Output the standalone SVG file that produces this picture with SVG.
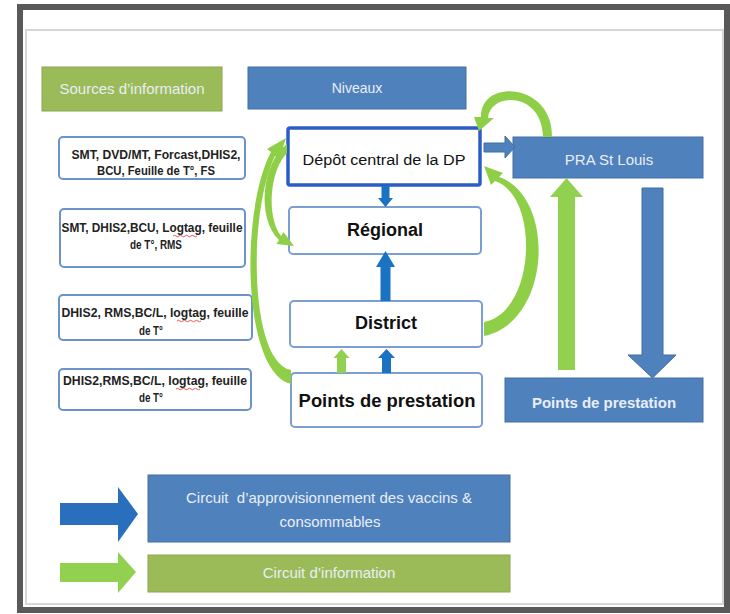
<svg xmlns="http://www.w3.org/2000/svg" width="730" height="614" viewBox="0 0 730 614">
<style>
.frame{fill:none;stroke:#595959;stroke-width:6}
.slide{fill:#fff;stroke:#d6d6d6;stroke-width:2}
.src{fill:#fff;stroke:#6b93c8;stroke-width:2}
.lvl{fill:#fff;stroke:#7a9fd0;stroke-width:2}
.dep{fill:#fff;stroke:#2c5cc5;stroke-width:3.5}
.brect{fill:#4f81bd;stroke:#44709f;stroke-width:1}
.grect{fill:#9bbb59;stroke:#8aa84f;stroke-width:1}
.st{font-family:"Liberation Sans",Arial,sans-serif;font-size:12.5px;font-weight:bold;fill:#222;text-anchor:middle}
.lt{font-family:"Liberation Sans",Arial,sans-serif;font-weight:bold;fill:#111;text-anchor:middle}
.dt{font-family:"Liberation Sans",Arial,sans-serif;font-weight:normal;font-size:15.5px;fill:#111;text-anchor:middle}
.wt{font-family:"Liberation Sans",Arial,sans-serif;fill:#e9eef6;text-anchor:middle}
.garc{fill:#8fcf48}
.barrow{fill:#1a72c2}
.bigb{fill:#4f81bd;stroke:#3f6ea3;stroke-width:1}
.bigg{fill:#92d050}
.sq{fill:none;stroke:#e03030;stroke-width:0.8}
</style>
<rect x="0" y="0" width="730" height="614" fill="#fff"/>
<rect class="slide" x="26" y="30" width="697" height="574"/>
<rect class="frame" x="20" y="7" width="707" height="603"/>

<g id="sources-header">
<rect class="grect" x="42" y="67" width="180" height="44"/>
<text class="wt" x="132" y="94" font-size="15" fill="#eef3e2">Sources d’information</text>
</g>
<g id="niveaux-header">
<rect class="brect" x="248" y="67" width="218" height="42"/>
<text class="wt" x="357" y="93" font-size="14">Niveaux</text>
</g>

<g id="src1">
<rect class="src" x="59" y="137" width="186" height="42" rx="4"/>
<text class="st" x="156" y="159" textLength="169" lengthAdjust="spacingAndGlyphs">SMT, DVD/MT, Forcast,DHIS2,</text>
<text class="st" x="156" y="175" textLength="118" lengthAdjust="spacingAndGlyphs">BCU, Feuille de T°, FS</text>
</g>
<g id="src2">
<rect class="src" x="60" y="209" width="185" height="58" rx="4"/>
<text class="st" x="152" y="232" textLength="181" lengthAdjust="spacingAndGlyphs">SMT, DHIS2,BCU, Logtag, feuille</text>
<text class="st" x="156" y="249" textLength="52" lengthAdjust="spacingAndGlyphs">de T°, RMS</text>
<path class="sq" d="M173,236 q1.5,-1.5 3,0 t3,0 t3,0 t3,0 t3,0 t3,0 t3,0 t3,0"/>
</g>
<g id="src3">
<rect class="src" x="59" y="295" width="193" height="45" rx="4"/>
<text class="st" x="155" y="317" textLength="187" lengthAdjust="spacingAndGlyphs">DHIS2, RMS,BC/L, logtag, feuille</text>
<text class="st" x="151" y="335" textLength="24" lengthAdjust="spacingAndGlyphs">de T°</text>
<path class="sq" d="M177,321 q1.5,-1.5 3,0 t3,0 t3,0 t3,0 t3,0 t3,0 t3,0 t3,0"/>
</g>
<g id="src4">
<rect class="src" x="59" y="369" width="192" height="41" rx="4"/>
<text class="st" x="155" y="385" textLength="184" lengthAdjust="spacingAndGlyphs">DHIS2,RMS,BC/L, logtag, feuille</text>
<text class="st" x="151" y="402" textLength="24" lengthAdjust="spacingAndGlyphs">de T°</text>
<path class="sq" d="M176,389 q1.5,-1.5 3,0 t3,0 t3,0 t3,0 t3,0 t3,0 t3,0 t3,0"/>
</g>

<g id="depot">
<rect class="dep" x="288" y="128" width="192" height="57" rx="2"/>
<text class="dt" x="384" y="165" textLength="163" lengthAdjust="spacingAndGlyphs">Dépôt central de la DP</text>
</g>
<g id="regional">
<rect class="lvl" x="289" y="207" width="192" height="47" rx="4"/>
<text class="lt" x="385" y="236" font-size="18">Régional</text>
</g>
<g id="district">
<rect class="lvl" x="290" y="301" width="192" height="46" rx="4"/>
<text class="lt" x="386" y="329" font-size="18">District</text>
</g>
<g id="points">
<rect class="lvl" x="291" y="373" width="191" height="54" rx="4"/>
<text class="lt" x="387" y="407" font-size="18.4">Points de prestation</text>
</g>

<g id="pra">
<rect class="brect" x="513" y="137" width="190" height="41"/>
<text class="wt" x="609" y="165" font-size="15">PRA St Louis</text>
</g>
<g id="points-right">
<rect class="brect" x="505" y="378" width="198" height="44"/>
<text class="wt" x="604" y="408" font-size="15" font-weight="bold">Points de prestation</text>
</g>

<g id="connectors">
<path class="bigb" d="M484,143 H505 V136 L515,147 L505,158 V152 H484 Z"/>
<path class="barrow" d="M381.5,186 H389.5 V198 H393 L385.5,207 L378,198 H381.5 Z"/>
<path class="barrow" d="M380.5,301 H390.5 V267 H395 L385.5,251 L376,267 H380.5 Z"/>
<path class="barrow" d="M382,373 H391 V358 H395 L386.5,349 L378,358 H382 Z"/>
<path class="bigg" d="M337,373 H346 V358 H349.5 L341.5,349 L333.5,358 H337 Z"/>
<path class="garc" d="M552,137 C553,82 480,78 481,117 L474,117 L479,131 L494,118 L488,118 C490,92 542,91 543,137 Z"/>
<path class="garc" d="M484,336 C552,322 556,196 499,177 L503,173 L484,166 L491,185 L495,181 C540,196 536,312 484,322 Z"/>
<path class="garc" d="M291,384 C242,372 240,210 271,152 L267,149 L286,138 L279,159 L275,156 C248,212 249,362 291,370 Z"/>
<path class="garc" d="M287,144 C262,162 256,218 279,240 L276.5,244 L294,246 L283.5,232 L281,236 C266,216 270,170 287,153 Z"/>
<path class="bigg" d="M558,370 V197 H550 L566.5,178 L583,197 H575 V370 Z"/>
<path class="bigb" d="M642,188 H663 V355 H676 L652.5,378 L628,355 H642 Z"/>
</g>

<g id="legend-supply">
<path fill="#2a6fbd" d="M60,503 H118 V487 L138,514 L118,542 V525 H60 Z"/>
<rect class="brect" x="148" y="475" width="362" height="67"/>
<text class="wt" x="329" y="503" font-size="15" xml:space="preserve">Circuit  d’approvisionnement des vaccins &amp;</text>
<text class="wt" x="330" y="527" font-size="15">consommables</text>
</g>
<g id="legend-info">
<path fill="#92d050" d="M60,563 H118 V552 L136,572 L118,593 V582 H60 Z"/>
<rect class="grect" x="148" y="555" width="362" height="37"/>
<text class="wt" x="329" y="578" font-size="15" fill="#eef3e2">Circuit d’information</text>
</g>
</svg>
